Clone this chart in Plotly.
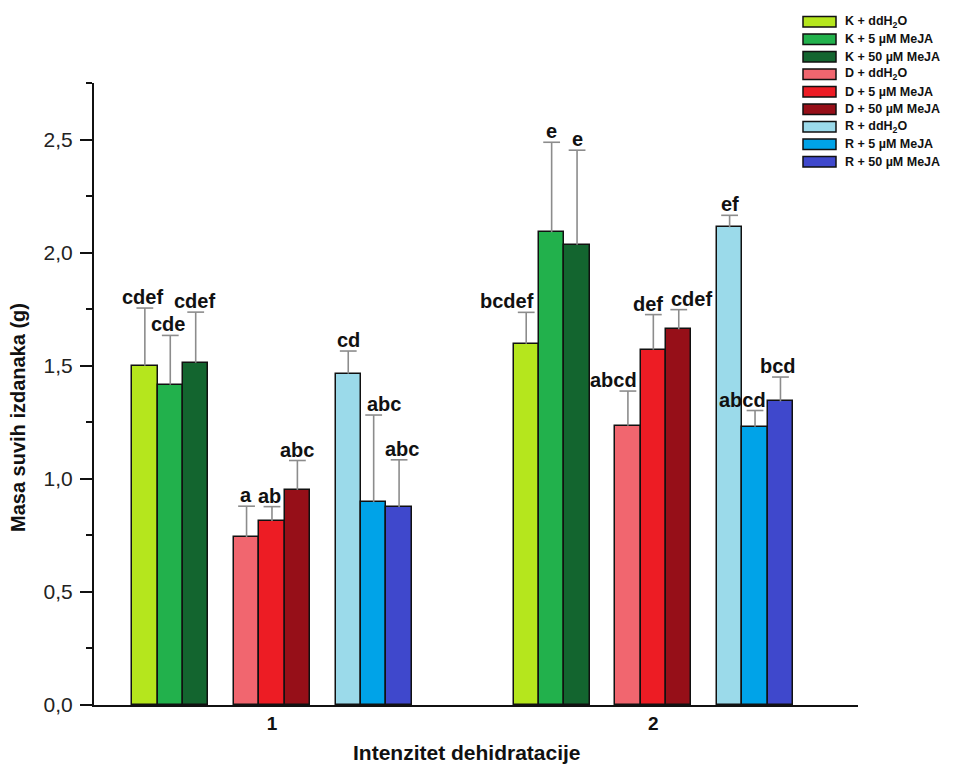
import plotly.graph_objects as go

# ---------------- data ----------------
groups = ["1", "2"]
treatments = ["K + ddH<sub>2</sub>O", "K + 5 µM MeJA", "K + 50 µM MeJA",
              "D + ddH<sub>2</sub>O", "D + 5 µM MeJA", "D + 50 µM MeJA",
              "R + ddH<sub>2</sub>O", "R + 5 µM MeJA", "R + 50 µM MeJA"]
means = [
    [1.500, 1.597],
    [1.416, 2.090],
    [1.513, 2.035],
    [0.742, 1.235],
    [0.814, 1.571],
    [0.951, 1.661],
    [1.465, 2.112],
    [0.897, 1.230],
    [0.875, 1.342],
]
sd = [
    [0.255, 0.139],
    [0.218, 0.398],
    [0.224, 0.418],
    [0.137, 0.153],
    [0.063, 0.155],
    [0.130, 0.087],
    [0.100, 0.053],
    [0.385, 0.072],
    [0.209, 0.108],
]
letters = [
    ["cdef", "bcdef"],
    ["cde", "e"],
    ["cdef", "e"],
    ["a", "abcd"],
    ["ab", "def"],
    ["abc", "cdef"],
    ["cd", "ef"],
    ["abc", "abcd"],
    ["abc", "bcd"],
]

# ---------------- style ----------------
colors = ["#b5e61d", "#22b14c", "#13652f",
          "#f1666f", "#ed1c24", "#960f18",
          "#9bdaea", "#00a3e8", "#3f48cc"]
# pixel nudges of the significance letters (style only)
label_nudge = [
    [-2, -19],
    [-2, 0],
    [-1, 0],
    [-1, -14],
    [-2, -5],
    [0, 13],
    [0, 0],
    [10, -13],
    [3, -2],
]
FONT = "Liberation Sans, Arial, sans-serif"
GROUP_SPACING = 15

OFF = 8  # page body margin
W, H = 955 - OFF, 764 - OFF
L, T = 94 - OFF, 83 - OFF
R = W - (858 - OFF)
B = H - (705 - OFF)


def xpos(i, g):
    sub, j = divmod(i, 3)
    slot = sub * 4 + j
    return g * GROUP_SPACING + slot - 5


fig = go.Figure()
annotations = []
for i, name in enumerate(treatments):
    xs = [xpos(i, g) for g in range(len(groups))]
    fig.add_trace(go.Bar(
        x=xs, y=means[i], width=1, name=name,
        marker=dict(color=colors[i], line=dict(color="#111111", width=1.5)),
        error_y=dict(type="data", array=sd[i], arrayminus=[0] * len(sd[i]),
                     symmetric=False, color="#8c8c8c", thickness=1.6, width=0),
        showlegend=False,
    ))
    tops = [m + s for m, s in zip(means[i], sd[i])]
    fig.add_trace(go.Scatter(
        x=xs, y=tops, mode="markers", showlegend=False, hoverinfo="skip",
        marker=dict(symbol="line-ew", size=12, line=dict(color="#8c8c8c", width=1.6)),
    ))
    for g in range(len(groups)):
        annotations.append(dict(
            x=xs[g], y=tops[g], xref="x", yref="y", text=letters[i][g],
            showarrow=False, yanchor="bottom", xanchor="center",
            xshift=label_nudge[i][g], yshift=-2,
            font=dict(family=FONT, size=20, color="#111111", weight="bold"),
        ))

# custom legend (paper coordinates computed from screen pixel layout)
pw, ph = W - L - R, H - T - B


def px2paper(px, py):
    px -= OFF
    py -= OFF
    return (px - L) / pw, (H - B - py) / ph


shapes = []
for i, name in enumerate(treatments):
    top = 16.5 + i * 17.5
    x0, y0 = px2paper(803, top + 10.5)
    x1, y1 = px2paper(836, top)
    shapes.append(dict(type="rect", xref="paper", yref="paper", x0=x0, x1=x1, y0=y0, y1=y1,
                       fillcolor=colors[i], line=dict(color="#111111", width=1.5)))
    tx, ty = px2paper(843, top + 5.5)
    annotations.append(dict(x=tx, y=ty, xref="paper", yref="paper", text=name,
                            showarrow=False, xanchor="left", yanchor="middle",
                            font=dict(family=FONT, size=12.5, color="#111111", weight="bold")))

# axis titles
ax, ay = px2paper(18, 418)
annotations.append(dict(x=ax, y=ay, xref="paper", yref="paper", text="Masa suvih izdanaka (g)",
                        textangle=-90, showarrow=False, xanchor="center", yanchor="middle",
                        font=dict(family=FONT, size=20, color="#111111", weight="bold")))
bx, by = px2paper(467, 752)
annotations.append(dict(x=bx, y=by, xref="paper", yref="paper", text="Intenzitet dehidratacije",
                        showarrow=False, xanchor="center", yanchor="middle",
                        font=dict(family=FONT, size=21, color="#111111", weight="bold")))

fig.update_layout(
    width=W, height=H,
    margin=dict(l=L, r=R, t=T, b=B, pad=0),
    paper_bgcolor="white", plot_bgcolor="white",
    bargap=0, barmode="overlay",
    annotations=annotations, shapes=shapes,
    showlegend=False,
)
fig.update_xaxes(
    range=[-7, 23.05], tickmode="array",
    tickvals=[g * GROUP_SPACING for g in range(len(groups))], ticktext=groups,
    showline=True, linecolor="#111111", linewidth=2, ticks="", showgrid=False, zeroline=False,
    tickfont=dict(family=FONT, size=19, color="#111111", weight="bold"),
)
fig.update_yaxes(
    range=[0, 2.75], tickmode="array", tickvals=[0, 0.5, 1.0, 1.5, 2.0, 2.5],
    ticktext=["0,0", "0,5", "1,0", "1,5", "2,0", "2,5"],
    showline=True, linecolor="#111111", linewidth=2, ticks="outside", ticklen=12,
    tickwidth=2, tickcolor="#111111", showgrid=False, zeroline=False,
    minor=dict(tickvals=[0.25, 0.75, 1.25, 1.75, 2.25, 2.75], ticks="outside", ticklen=6,
               tickwidth=2, tickcolor="#111111", showgrid=False),
    tickfont=dict(family=FONT, size=21, color="#222222"),
    ticklabelstandoff=3,
)

fig.write_html("out.html")
